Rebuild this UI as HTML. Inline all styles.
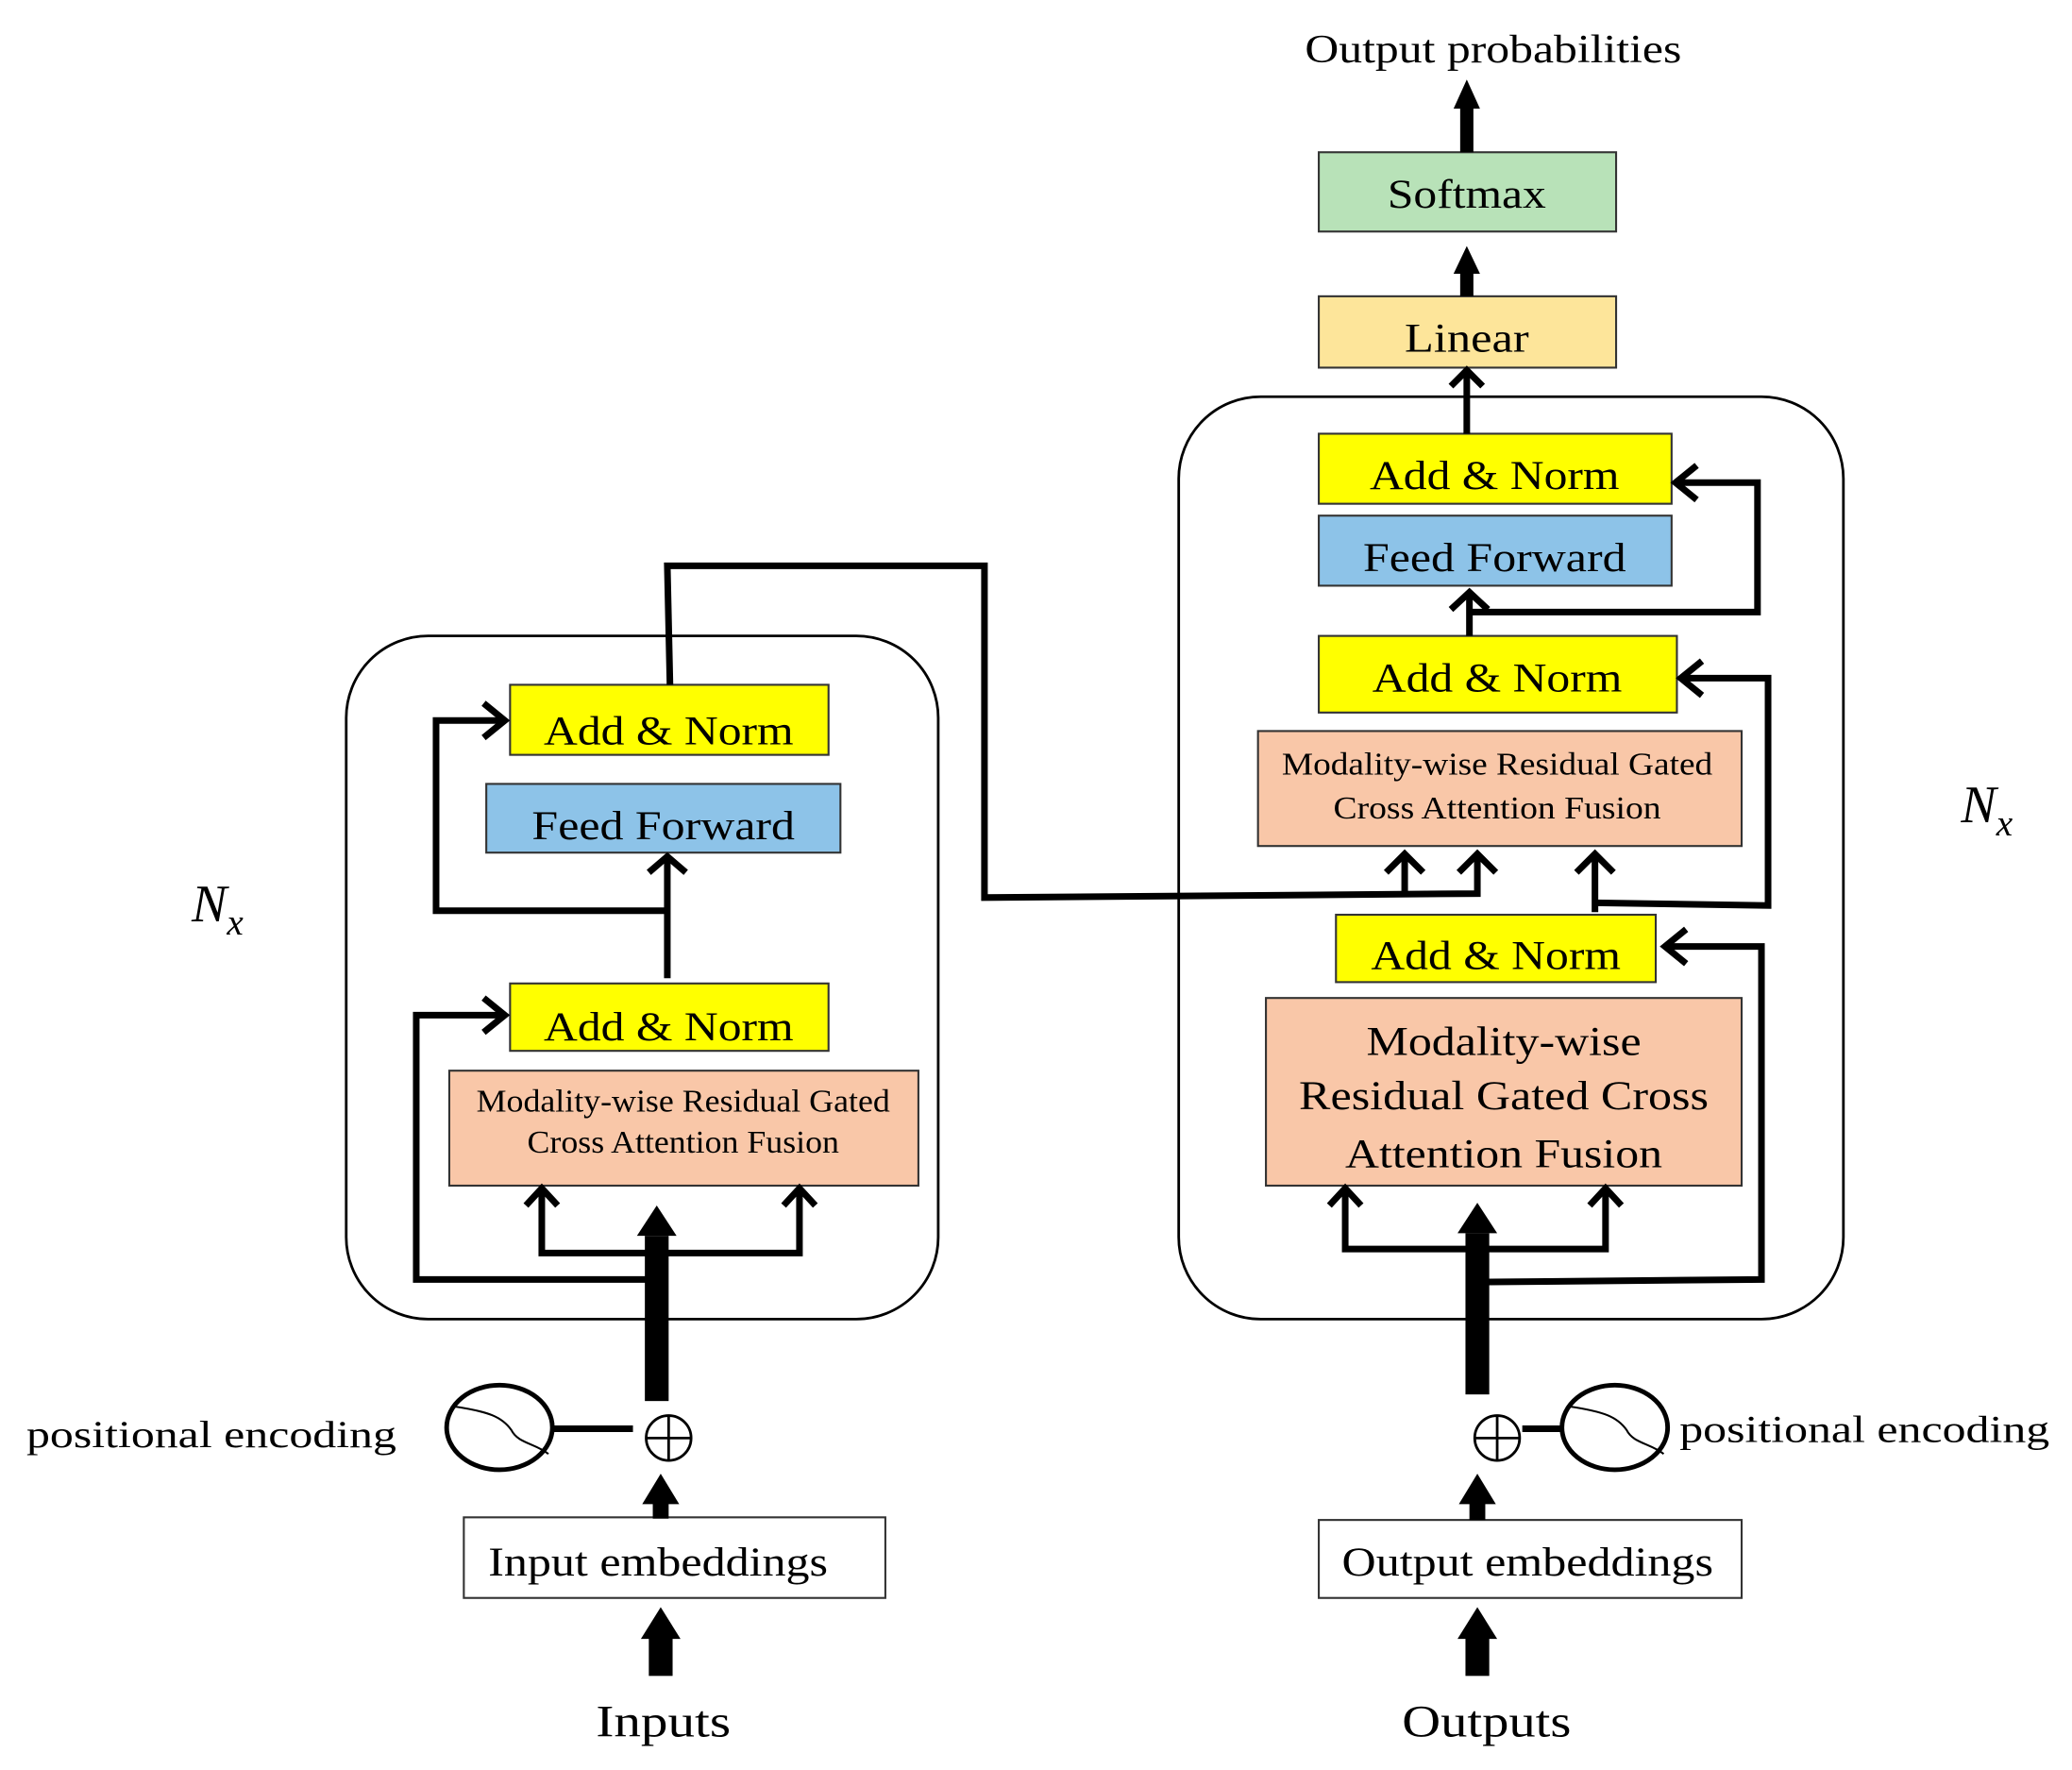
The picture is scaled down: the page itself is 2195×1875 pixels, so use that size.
<!DOCTYPE html>
<html><head><meta charset="utf-8"><style>
html,body{margin:0;padding:0;background:#fff;}
svg{display:block;}
text{font-family:"Liberation Serif",serif;fill:#000;}
</style></head><body>
<svg width="2195" height="1875" viewBox="0 0 1568 1339" xmlns="http://www.w3.org/2000/svg">
<g fill="none" stroke="#000" stroke-width="2">
<rect x="262" y="481" width="448" height="517" rx="62"/>
<rect x="892" y="300" width="503" height="698" rx="62"/>
</g>
<g stroke="#333" stroke-width="1.5">
<rect x="386" y="518" width="241" height="53" fill="#ffff00"/>
<rect x="368" y="593" width="268" height="52" fill="#8dc3e8"/>
<rect x="386" y="744" width="241" height="51" fill="#ffff00"/>
<rect x="340" y="810" width="355" height="87" fill="#f9c7a8"/>
<rect x="351" y="1148" width="319" height="61" fill="#fff"/>
<rect x="998" y="115" width="225" height="60" fill="#b8e2b8"/>
<rect x="998" y="224" width="225" height="54" fill="#fde59a"/>
<rect x="998" y="328" width="267" height="53" fill="#ffff00"/>
<rect x="998" y="390" width="267" height="53" fill="#8dc3e8"/>
<rect x="998" y="481" width="271" height="58" fill="#ffff00"/>
<rect x="952" y="553" width="366" height="87" fill="#f9c7a8"/>
<rect x="1011" y="692" width="242" height="51" fill="#ffff00"/>
<rect x="958" y="755" width="360" height="142" fill="#f9c7a8"/>
<rect x="998" y="1150" width="320" height="59" fill="#fff"/>
</g>
<g font-size="31" text-anchor="middle" lengthAdjust="spacingAndGlyphs">
<text x="506" y="563" textLength="189" lengthAdjust="spacingAndGlyphs">Add &amp; Norm</text>
<text x="502" y="635" textLength="199" lengthAdjust="spacingAndGlyphs">Feed Forward</text>
<text x="506" y="787" textLength="189" lengthAdjust="spacingAndGlyphs">Add &amp; Norm</text>
<text x="1110" y="157" textLength="120" lengthAdjust="spacingAndGlyphs">Softmax</text>
<text x="1110" y="266" textLength="94" lengthAdjust="spacingAndGlyphs">Linear</text>
<text x="1131" y="370" textLength="189" lengthAdjust="spacingAndGlyphs">Add &amp; Norm</text>
<text x="1131" y="432" textLength="199" lengthAdjust="spacingAndGlyphs">Feed Forward</text>
<text x="1133" y="523" textLength="189" lengthAdjust="spacingAndGlyphs">Add &amp; Norm</text>
<text x="1132" y="733" textLength="189" lengthAdjust="spacingAndGlyphs">Add &amp; Norm</text>
<text x="1138" y="798" textLength="208" lengthAdjust="spacingAndGlyphs">Modality-wise</text>
<text x="1138" y="839" textLength="310" lengthAdjust="spacingAndGlyphs">Residual Gated Cross</text>
<text x="1138" y="883" textLength="240" lengthAdjust="spacingAndGlyphs">Attention Fusion</text>
<text x="498" y="1192" textLength="257" lengthAdjust="spacingAndGlyphs">Input embeddings</text>
<text x="1156" y="1192" textLength="281" lengthAdjust="spacingAndGlyphs">Output embeddings</text>
<text x="502" y="1314" font-size="34" textLength="102" lengthAdjust="spacingAndGlyphs">Inputs</text>
<text x="1125" y="1314" font-size="34" textLength="128" lengthAdjust="spacingAndGlyphs">Outputs</text>
<text x="1130" y="47" font-size="30" textLength="285" lengthAdjust="spacingAndGlyphs">Output probabilities</text>
</g>
<g font-size="24" text-anchor="middle">
<text x="517" y="841" textLength="313" lengthAdjust="spacingAndGlyphs">Modality-wise Residual Gated</text>
<text x="517" y="872" textLength="236" lengthAdjust="spacingAndGlyphs">Cross Attention Fusion</text>
<text x="1133" y="586" textLength="326" lengthAdjust="spacingAndGlyphs">Modality-wise Residual Gated</text>
<text x="1133" y="619" textLength="248" lengthAdjust="spacingAndGlyphs">Cross Attention Fusion</text>
</g>
<text x="160" y="1095" font-size="29" text-anchor="middle" textLength="280" lengthAdjust="spacingAndGlyphs">positional encoding</text>
<text x="1411" y="1091" font-size="29" text-anchor="middle" textLength="280" lengthAdjust="spacingAndGlyphs">positional encoding</text>
<text x="145" y="697" font-size="40" font-style="italic">N<tspan font-size="28" dy="10">x</tspan></text>
<text x="1484" y="622" font-size="40" font-style="italic">N<tspan font-size="28" dy="10">x</tspan></text>
<g fill="none" stroke="#000">
<ellipse cx="378" cy="1080" rx="40" ry="32" stroke-width="3.5"/>
<path d="M343 1064 C370 1068 380 1072 387 1082 C392 1092 405 1092 415 1100" stroke-width="1.5"/>
<line x1="418" y1="1081" x2="479" y2="1081" stroke-width="5"/>
<circle cx="506" cy="1088" r="17" stroke-width="2"/>
<line x1="489" y1="1088" x2="523" y2="1088" stroke-width="2"/><line x1="506" y1="1071" x2="506" y2="1105" stroke-width="2"/>
<ellipse cx="1222" cy="1080" rx="40" ry="32" stroke-width="3.5"/>
<path d="M1187 1064 C1214 1068 1224 1072 1231 1082 C1236 1092 1249 1092 1259 1100" stroke-width="1.5"/>
<line x1="1152" y1="1081" x2="1182" y2="1081" stroke-width="5"/>
<circle cx="1133" cy="1088" r="17" stroke-width="2"/>
<line x1="1116" y1="1088" x2="1150" y2="1088" stroke-width="2"/><line x1="1133" y1="1071" x2="1133" y2="1105" stroke-width="2"/>
</g>
<g fill="#000">
<rect x="491" y="1236" width="18" height="32"/><polygon points="485,1240 500,1216 515,1240"/>
<rect x="494" y="1135" width="12" height="14"/><polygon points="486,1138 500,1115 514,1138"/>
<rect x="488" y="935" width="18" height="125"/><polygon points="482,935 497,912 512,935"/>
<rect x="1109" y="1236" width="18" height="32"/><polygon points="1103,1240 1118,1216 1133,1240"/>
<rect x="1112" y="1135" width="12" height="15"/><polygon points="1104,1138 1118,1115 1132,1138"/>
<rect x="1109" y="933" width="18" height="122"/><polygon points="1103,933 1118,910 1133,933"/>
<rect x="1105" y="80" width="10" height="35"/><polygon points="1100,82 1110,60 1120,82"/>
<rect x="1105" y="205" width="10" height="19"/><polygon points="1100,207 1110,186 1120,207"/>
</g>
<g fill="none" stroke="#000" stroke-width="5" stroke-linejoin="miter">
<polyline points="410,900 410,948 605,948 605,900"/>
<polyline points="497,968 315,968 315,768 380,768"/>
<line x1="505" y1="740" x2="505" y2="650"/>
<polyline points="505,689 330,689 330,545 380,545"/>
<polyline points="507,518 505,428 745,428 745,679 1118,676 1118,646"/>
<line x1="1063" y1="676" x2="1063" y2="646"/>
<polyline points="1018,900 1018,945 1215,945 1215,900"/>
<polyline points="1118,970 1333,968 1333,716 1262,716"/>
<line x1="1207" y1="690" x2="1207" y2="646"/>
<polyline points="1207,683 1338,685 1338,513 1275,513"/>
<line x1="1112" y1="481" x2="1112" y2="450"/>
<polyline points="1112,463 1330,463 1330,365 1270,365"/>
<line x1="1110" y1="328" x2="1110" y2="282"/>
<polyline points="398,912 410,899 422,912"/><polyline points="593,912 605,899 617,912"/>
<polyline points="366,755 382,768 366,781"/><polyline points="366,532 382,545 366,558"/>
<polyline points="491,660 505,648 519,660"/>
<polyline points="1104,660 1118,646 1132,660"/><polyline points="1049,660 1063,646 1077,660"/>
<polyline points="1006,912 1018,899 1030,912"/><polyline points="1203,912 1215,899 1227,912"/>
<polyline points="1276,703 1260,716 1276,729"/><polyline points="1193,660 1207,646 1221,660"/>
<polyline points="1288,500 1272,513 1288,526"/><polyline points="1098,461 1112,448 1126,461"/>
<polyline points="1284,352 1268,365 1284,378"/><polyline points="1098,292 1110,280 1122,292"/>
</g>
</svg>
</body></html>
